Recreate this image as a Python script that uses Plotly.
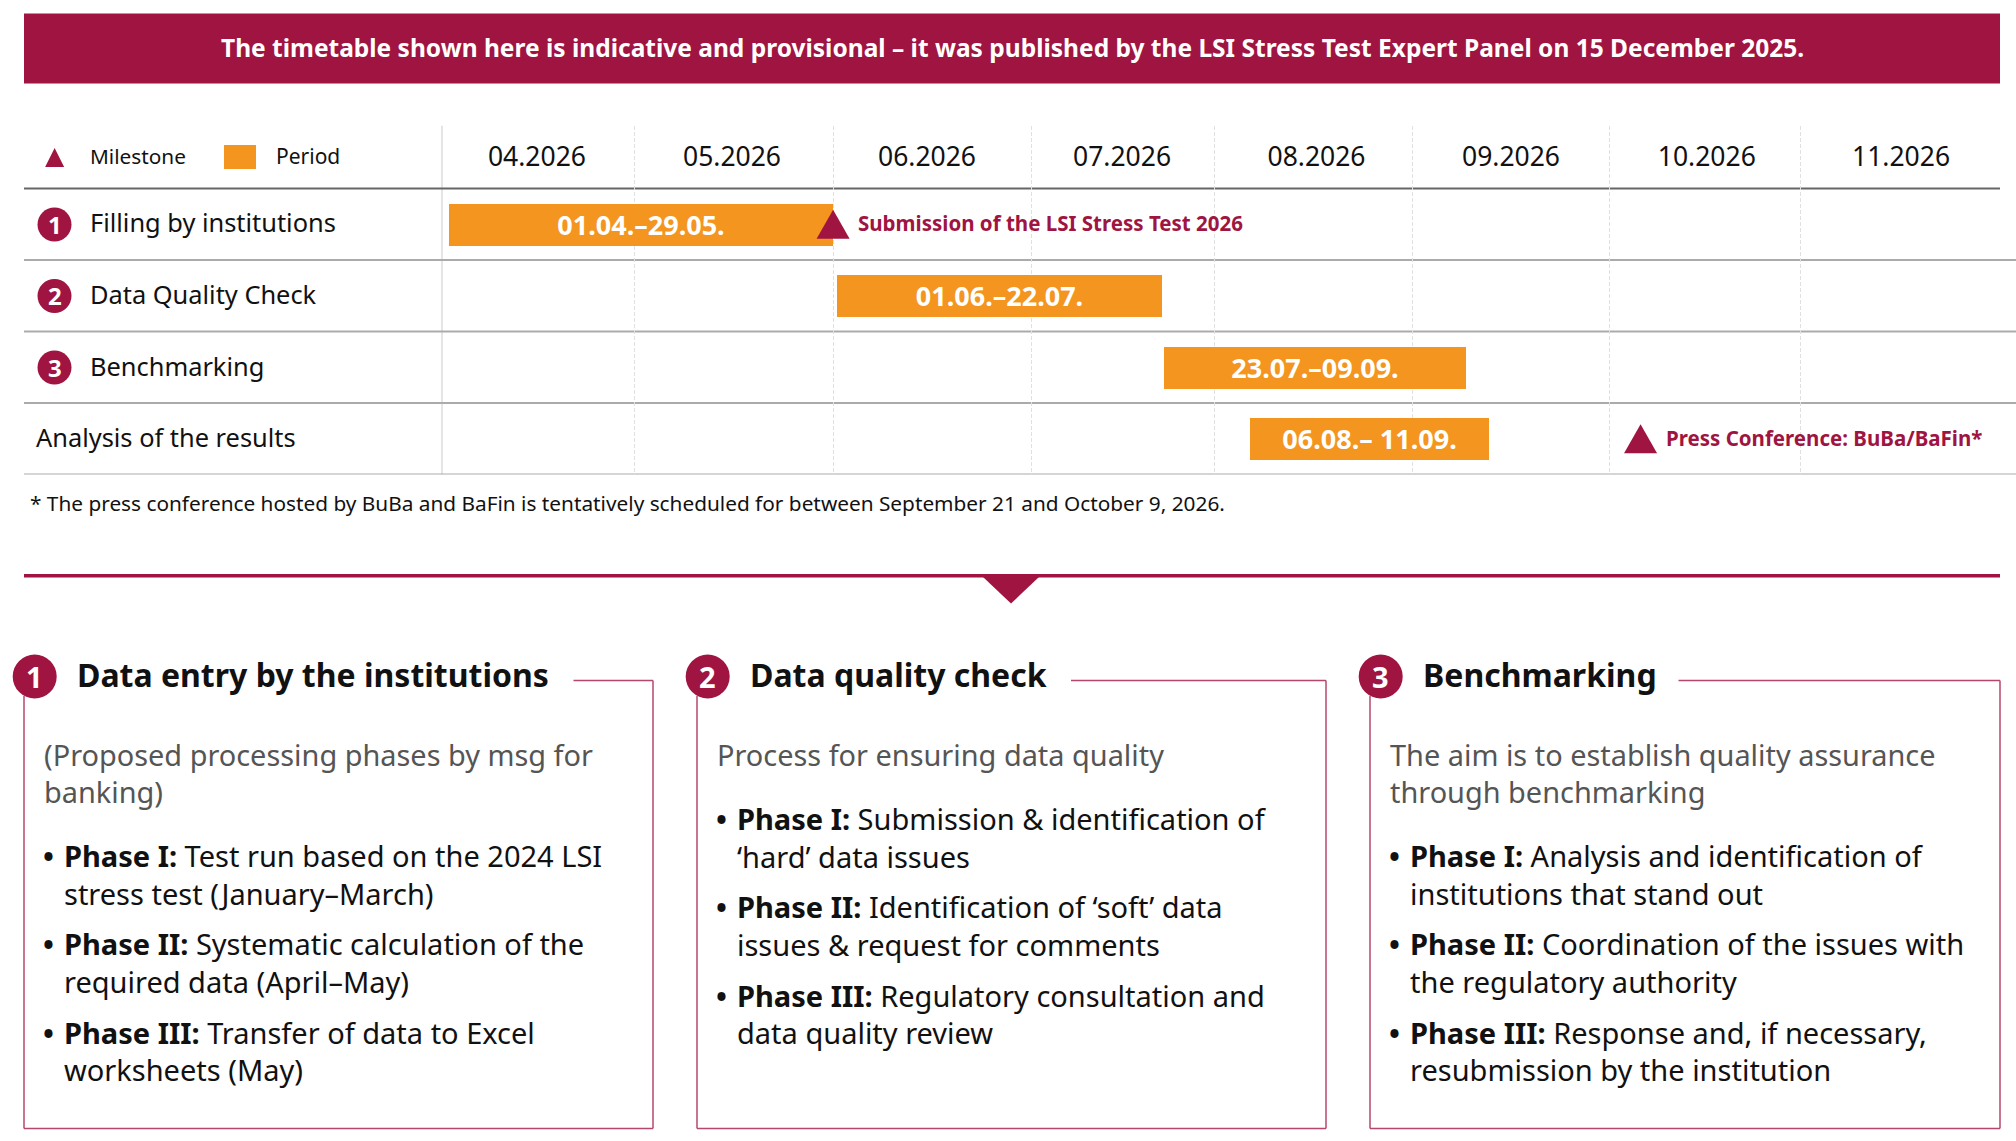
import pandas as pd
import plotly.graph_objects as go

W, H = 2016, 1141
CRIMSON = "#A01441"
ORANGE = "#F3951F"
FONT = "Noto Sans"

banner_text = "The timetable shown here is indicative and provisional – it was published by the LSI Stress Test Expert Panel on 15 December 2025."
footnote = "* The press conference hosted by BuBa and BaFin is tentatively scheduled for between September 21 and October 9, 2026."

# timetable, dates
row_labels = ["Filling by institutions", "Data Quality Check", "Benchmarking", "Analysis of the results"]
row_numbers = ["1", "2", "3", ""]
bar_starts = ["2026-04-02 02:00", "2026-06-01 21:00", "2026-07-23 02:00", "2026-08-05 13:00"]
bar_ends = ["2026-06-01 06:00", "2026-07-22 18:00", "2026-09-08 10:00", "2026-09-12 01:00"]
bar_texts = ["01.04.–29.05.", "01.06.–22.07.", "23.07.–09.09.", "06.08.– 11.09."]
month_labels = ["04.2026", "05.2026", "06.2026", "07.2026", "08.2026", "09.2026", "10.2026", "11.2026"]
month_centres = ["2026-04-15 21:00", "2026-05-16 10:00", "2026-06-15 23:00", "2026-07-16 12:00",
                 "2026-08-15 23:00", "2026-09-15 10:00", "2026-10-16 02:00", "2026-11-15 12:00"]
month_edges = ["2026-04-01", "2026-05-01 04:00", "2026-06-01 06:00", "2026-07-02 06:00",
               "2026-07-30 22:00", "2026-08-30 22:00", "2026-09-30 22:00", "2026-10-30 20:00"]
milestone_dates = ["2026-06-01 06:00", "2026-10-05 17:00"]
milestone_rows = [0, 3]
milestone_labels = ["Submission of the LSI Stress Test 2026", "Press Conference: BuBa/BaFin*"]

# text of the three boxes
box_titles = ["Data entry by the institutions", "Data quality check", "Benchmarking"]
box_intros = [
    ["(Proposed processing phases by msg for", "banking)"],
    ["Process for ensuring data quality"],
    ["The aim is to establish quality assurance", "through benchmarking"],
]
box_phases = [
    [("Phase I:", "Test run based on the 2024 LSI", "stress test (January–March)"),
     ("Phase II:", "Systematic calculation of the", "required data (April–May)"),
     ("Phase III:", "Transfer of data to Excel", "worksheets (May)")],
    [("Phase I:", "Submission & identification of", "‘hard’ data issues"),
     ("Phase II:", "Identification of ‘soft’ data", "issues & request for comments"),
     ("Phase III:", "Regulatory consultation and", "data quality review")],
    [("Phase I:", "Analysis and identification of", "institutions that stand out"),
     ("Phase II:", "Coordination of the issues with", "the regulatory authority"),
     ("Phase III:", "Response and, if necessary,", "resubmission by the institution")],
]


def px_x(v):
    return v / W


def px_y(v):
    return 1 - v / H


shapes = []
annotations = []


def label(x, y, text, size, color="#111111", anchor="left"):
    annotations.append(dict(
        x=px_x(x), y=px_y(y), xref="paper", yref="paper", text=text, showarrow=False,
        xanchor=anchor, yanchor="middle", align=anchor, borderpad=0, borderwidth=0,
        font=dict(family=FONT, size=size, color=color),
    ))


def rect(x0, y0, x1, y1, color):
    shapes.append(dict(type="rect", xref="paper", yref="paper", x0=px_x(x0), x1=px_x(x1),
                       y0=px_y(y0), y1=px_y(y1), fillcolor=color, line_width=0))


def line(x0, y0, x1, y1, color, width, layer="below"):
    shapes.append(dict(type="line", xref="paper", yref="paper", x0=px_x(x0), x1=px_x(x1),
                       y0=px_y(y0), y1=px_y(y1), line=dict(color=color, width=width), layer=layer))


def badge(cx, cy, d, text, size):
    shapes.append(dict(type="circle", xref="paper", yref="paper", x0=px_x(cx - d / 2), x1=px_x(cx + d / 2),
                       y0=px_y(cy + d / 2), y1=px_y(cy - d / 2), fillcolor=CRIMSON, line_width=0))
    label(cx, cy, f"<b>{text}</b>", size, "white", "center")


def triangle_path(w, h):
    return f"M {-w / 2} {-h / 2} L {w / 2} {-h / 2} L 0 {h / 2} Z"


starts = pd.to_datetime(bar_starts)
ends = pd.to_datetime(bar_ends)
durations = [(e - s).total_seconds() * 1000 for s, e in zip(starts, ends)]
rows = list(range(len(row_labels)))

fig = go.Figure()
fig.add_trace(go.Bar(
    y=rows, x=durations, base=bar_starts, orientation="h", width=0.583,
    marker=dict(color=ORANGE, line_width=0),
    text=[f"<b>{t}</b>" for t in bar_texts], textposition="inside", insidetextanchor="middle",
    textangle=0, constraintext="none", textfont=dict(family=FONT, size=27, color="white"),
    hoverinfo="skip",
))
fig.add_trace(go.Scatter(
    x=month_centres, y=[-0.907] * len(month_centres), text=month_labels, mode="text",
    textposition="middle center", textfont=dict(family=FONT, size=26.5, color="#111111"),
    hoverinfo="skip",
))

# banner
rect(24, 13.6, 2000, 83.6, CRIMSON)
label(1012, 47, f"<b>{banner_text}</b>", 24.5, "white", "center")

# legend
shapes.append(dict(type="path", xref="paper", yref="paper", xsizemode="pixel", ysizemode="pixel",
                   xanchor=px_x(54.6), yanchor=px_y(157.5), path=triangle_path(19, 19),
                   fillcolor=CRIMSON, line_width=0))
label(90, 155.5, "Milestone", 20.8)
rect(224, 145, 256, 169, ORANGE)
label(276.4, 155.5, "Period", 21)

# table rules
line(442, 125.7, 442, 474.6, "#DDDDDD", 1.5)
line(24, 188.6, 2000, 188.6, "#666666", 2)
for edge_row in [0.5, 1.5, 2.5, 3.5]:
    shapes.append(dict(type="line", xref="paper", yref="y", x0=px_x(24), x1=1, y0=edge_row, y1=edge_row,
                       line=dict(color="#ABABAB", width=2), layer="below"))

# row labels and numbers
for i, (text, number) in enumerate(zip(row_labels, row_numbers)):
    cy = 223.5 + i * 71.5
    if number:
        badge(54.5, cy + 1, 34, number, 24)
        label(90, cy - 1, text, 25.4)
    else:
        label(36, cy - 1, text, 25.4)

# milestones
for date, row, text in zip(milestone_dates, milestone_rows, milestone_labels):
    shapes.append(dict(type="path", xref="x", yref="y", xsizemode="pixel", ysizemode="pixel",
                       xanchor=date, yanchor=row, path=triangle_path(33, 29),
                       fillcolor=CRIMSON, line_width=0, layer="above"))
    annotations.append(dict(x=date, y=row, xref="x", yref="y", text=f"<b>{text}</b>", showarrow=False,
                            xanchor="left", yanchor="middle", xshift=23, yshift=1,
                            font=dict(family=FONT, size=20.5, color=CRIMSON)))

label(30, 503, footnote, 20.8)

# divider with arrow
rect(24, 574, 2000, 577.5, CRIMSON)
shapes.append(dict(type="path", xref="paper", yref="paper", xsizemode="pixel", ysizemode="pixel",
                   xanchor=px_x(1011), yanchor=px_y(577), path="M -28 0 L 28 0 L 0 -26.5 Z",
                   fillcolor=CRIMSON, line_width=0))

# the three boxes
box_lefts = [24, 697, 1370]
box_rights = [653, 1326, 2000]
top_starts = [573.5, 1071, 1678.5]
BOX_LINE = "#B5476B"
for k in range(3):
    left, right = box_lefts[k], box_rights[k]
    line(top_starts[k], 680.4, right, 680.4, BOX_LINE, 1.5)
    line(right, 680.4, right, 1128.5, BOX_LINE, 1.5)
    line(left, 1128.5, right, 1128.5, BOX_LINE, 1.5)
    line(left, 696, left, 1128.5, BOX_LINE, 1.5)
    badge(left + 10.7, 676.5, 44, str(k + 1), 29)
    label(left + 53, 674.5, f"<b>{box_titles[k]}</b>", 32)

    y = 754
    for intro_line in box_intros[k]:
        label(left + 19.7, y, intro_line, 28.9, "#555555")
        y += 37
    y += 27.5
    for bold, first, second in box_phases[k]:
        label(left + 24, y, "<b>•</b>", 29, "#111111", "center")
        label(left + 40, y, f"<b>{bold}</b> {first}", 29)
        label(left + 40, y + 37.5, second, 29)
        y += 88.4

fig.update_layout(
    width=W, height=H, margin=dict(l=0, r=0, t=0, b=0), autosize=False,
    paper_bgcolor="white", plot_bgcolor="white", showlegend=False, hovermode=False,
    shapes=shapes, annotations=annotations, bargap=0,
    xaxis=dict(type="date", domain=[px_x(442), px_x(2000)], range=["2026-04-01", "2026-12-01"],
               tickvals=month_edges, showticklabels=False, ticks="", showgrid=True,
               gridcolor="#E0E0E0", griddash="4px,2px", gridwidth=1, zeroline=False, showline=False),
    yaxis=dict(domain=[px_y(474.6), px_y(125.7)], range=[3.5, -1.38], showgrid=False,
               showticklabels=False, ticks="", zeroline=False, showline=False),
)

fig.write_html("out.html", config={"displayModeBar": False}, post_script="document.body.style.margin='0';")
